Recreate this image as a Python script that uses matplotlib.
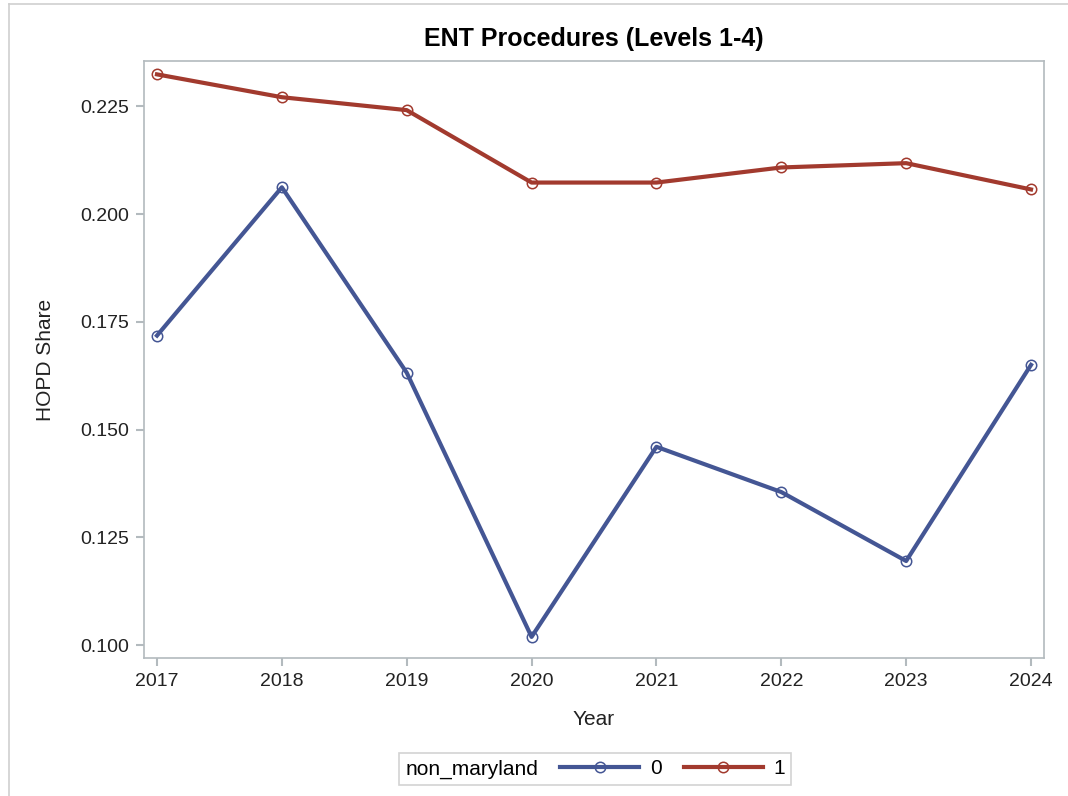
import matplotlib
matplotlib.use("Agg")
import matplotlib.pyplot as plt
from matplotlib.lines import Line2D
from matplotlib import font_manager
import numpy as np

years = [2017, 2018, 2019, 2020, 2021, 2022, 2023, 2024]
share_0 = [0.1718, 0.2062, 0.1632, 0.1019, 0.1460, 0.1355, 0.1195, 0.1650]
share_1 = [0.2324, 0.2271, 0.2241, 0.2073, 0.2073, 0.2108, 0.2118, 0.2057]
yticks = [0.100, 0.125, 0.150, 0.175, 0.200, 0.225]

blue = '#445694'
red = '#A23A2E'
grey = '#b3babe'

names = set(f.name for f in font_manager.fontManager.ttflist)
title_font = 'Liberation Sans Narrow' if 'Liberation Sans Narrow' in names else 'Liberation Sans'
plt.rcParams['font.family'] = ['Liberation Sans', 'DejaVu Sans']

fig = plt.figure(figsize=(10.68, 7.96), dpi=100)
ax = fig.add_axes([144/1068, 1 - 658/796, 900/1068, 597/796])

ax.plot(years, share_0, color=blue, lw=3, marker='o', ms=7.5, mfc='none',
        mec=blue, mew=1.1, label='0')
ax.plot(years, share_1, color=red, lw=3, marker='o', ms=7.5, mfc='none',
        mec=red, mew=1.1, label='1')

ax.set_xlim(2016.896, 2024.104)
ax.set_ylim(0.097, 0.2355)
ax.set_xticks(years)
ax.set_yticks(yticks)
ax.set_yticklabels(['%.3f' % v for v in yticks])

for s in ax.spines.values():
    s.set_color(grey)
    s.set_linewidth(1.2)
ax.tick_params(colors=grey, labelcolor='#222222', length=6, width=1.5,
               labelsize=14, pad=5)

ax.set_xlabel('Year', fontsize=15, color='#222222', labelpad=14.5)
ax.set_ylabel('HOPD Share', fontsize=15, color='#222222', labelpad=18)
ax.set_title('ENT Procedures (Levels 1-4)', fontsize=18, fontweight='bold',
             family=title_font, pad=10.5)

leg = fig.legend(loc='center', bbox_to_anchor=(595/1068, 1 - 769/796),
                 ncol=2, title='non_maryland', fontsize=15, title_fontsize=15,
                 frameon=True, fancybox=False, edgecolor='#c8c8c8',
                 handlelength=3.8, handletextpad=0.5, borderpad=0.3)
leg.get_frame().set_linewidth(1.2)
# put the title on the same row as the entries
box = leg.get_children()[0]
title_box = box.get_children()[0]
hpack = box.get_children()[1]
box._children = [hpack]
hpack._children = [title_box] + hpack.get_children()
hpack.sep = 16

# outer frame of the graph
fig.add_artist(Line2D([9/1068, 9/1068], [0, 1 - 4/796], transform=fig.transFigure,
                      color='#cfcfcf', lw=1.2))
fig.add_artist(Line2D([9/1068, 1], [1 - 4/796, 1 - 4/796], transform=fig.transFigure,
                      color='#cfcfcf', lw=1.2))

fig.savefig('out.png', dpi=100, facecolor='white')
